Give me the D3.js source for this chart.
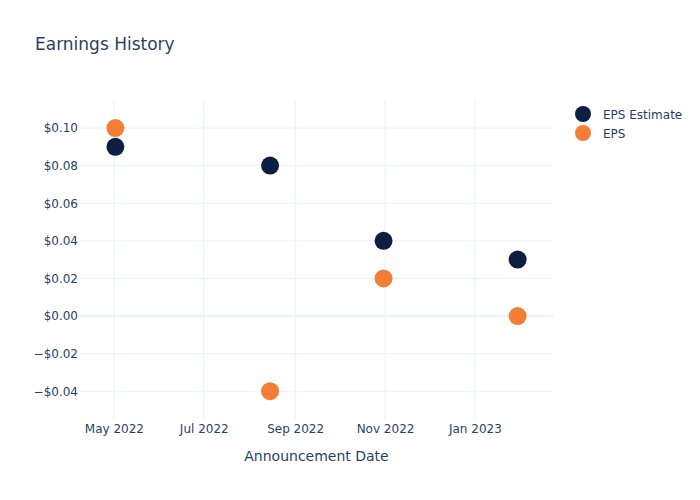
<!DOCTYPE html>
<html><head><meta charset="utf-8">
<script src="https://cdn.jsdelivr.net/npm/d3@7"></script>
<style>body{margin:0;background:#fff;} text{font-family:"DejaVu Sans",Verdana,sans-serif;}</style>
</head><body>
<svg id="chart" width="700" height="500"></svg>
<script>
const dates = ["2022-05-02","2022-08-15","2022-10-31","2023-01-30"];
const epsEstimate = [0.09, 0.08, 0.04, 0.03];
const eps = [0.10, -0.04, 0.02, 0.00];
const seriesNames = ["EPS Estimate", "EPS"];
const seriesColors = ["#0c1f40", "#f47e36"];
const xTicks = ["2022-05-01","2022-07-01","2022-09-01","2022-11-01","2023-01-01"];
const yTicks = [-0.04,-0.02,0,0.02,0.04,0.06,0.08,0.10];
const xDomain = ["2022-04-08","2023-02-23"];
const yDomain = [-0.0553, 0.1149];

const svg = d3.select("#chart");
const L=80, R=553, T=100, B=420;
const parse = d3.utcParse("%Y-%m-%d");
const x = d3.scaleUtc().domain(xDomain.map(parse)).range([L,R]);
const y = d3.scaleLinear().domain(yDomain).range([B,T]);
const textColor = "#2a3f5f", gridColor = "#ebf0f8";

// grid
svg.append("g").selectAll("line").data(xTicks.map(parse)).join("line")
  .attr("x1",d=>x(d)).attr("x2",d=>x(d)).attr("y1",T).attr("y2",B)
  .attr("stroke",gridColor).attr("stroke-width",1);
svg.append("g").selectAll("line").data(yTicks).join("line")
  .attr("x1",L).attr("x2",R).attr("y1",d=>y(d)).attr("y2",d=>y(d))
  .attr("stroke",gridColor).attr("stroke-width",d=>d===0?2:1);

// axes
const fmt = v => (v<0?"\u2212":"") + "$" + Math.abs(v).toFixed(2);
const yAxis = d3.axisLeft(y).tickValues(yTicks).tickFormat(fmt).tickSize(0).tickPadding(2);
const gy = svg.append("g").attr("transform",`translate(${L},0)`).call(yAxis);
gy.select(".domain").remove();
gy.selectAll("text").attr("fill",textColor).attr("font-size",12).attr("font-family","DejaVu Sans");

const xAxis = d3.axisBottom(x).tickValues(xTicks.map(parse)).tickFormat(d3.utcFormat("%b %Y")).tickSize(0).tickPadding(4);
const gx = svg.append("g").attr("transform",`translate(0,${B})`).call(xAxis);
gx.select(".domain").remove();
gx.selectAll("text").attr("fill",textColor).attr("font-size",12).attr("font-family","DejaVu Sans");

// points
const series = [epsEstimate, eps];
series.forEach((vals,i)=>{
  svg.append("g").selectAll("circle").data(vals).join("circle")
    .attr("cx",(d,j)=>x(parse(dates[j]))).attr("cy",d=>y(d)).attr("r",9)
    .attr("fill",seriesColors[i]);
});

// title
svg.append("text").attr("x",35).attr("y",50).attr("fill",textColor).attr("font-size",17).text("Earnings History");
svg.append("text").attr("x",(L+R)/2).attr("y",461).attr("text-anchor","middle").attr("fill",textColor).attr("font-size",14).text("Announcement Date");

// legend
const lg = svg.append("g");
seriesNames.forEach((n,i)=>{
  const yy = 114 + i*19;
  lg.append("circle").attr("cx",583).attr("cy",yy).attr("r",8).attr("fill",seriesColors[i]);
  lg.append("text").attr("x",603).attr("y",yy+4.5).attr("fill",textColor).attr("font-size",12).text(n);
});
</script>
</body></html>
